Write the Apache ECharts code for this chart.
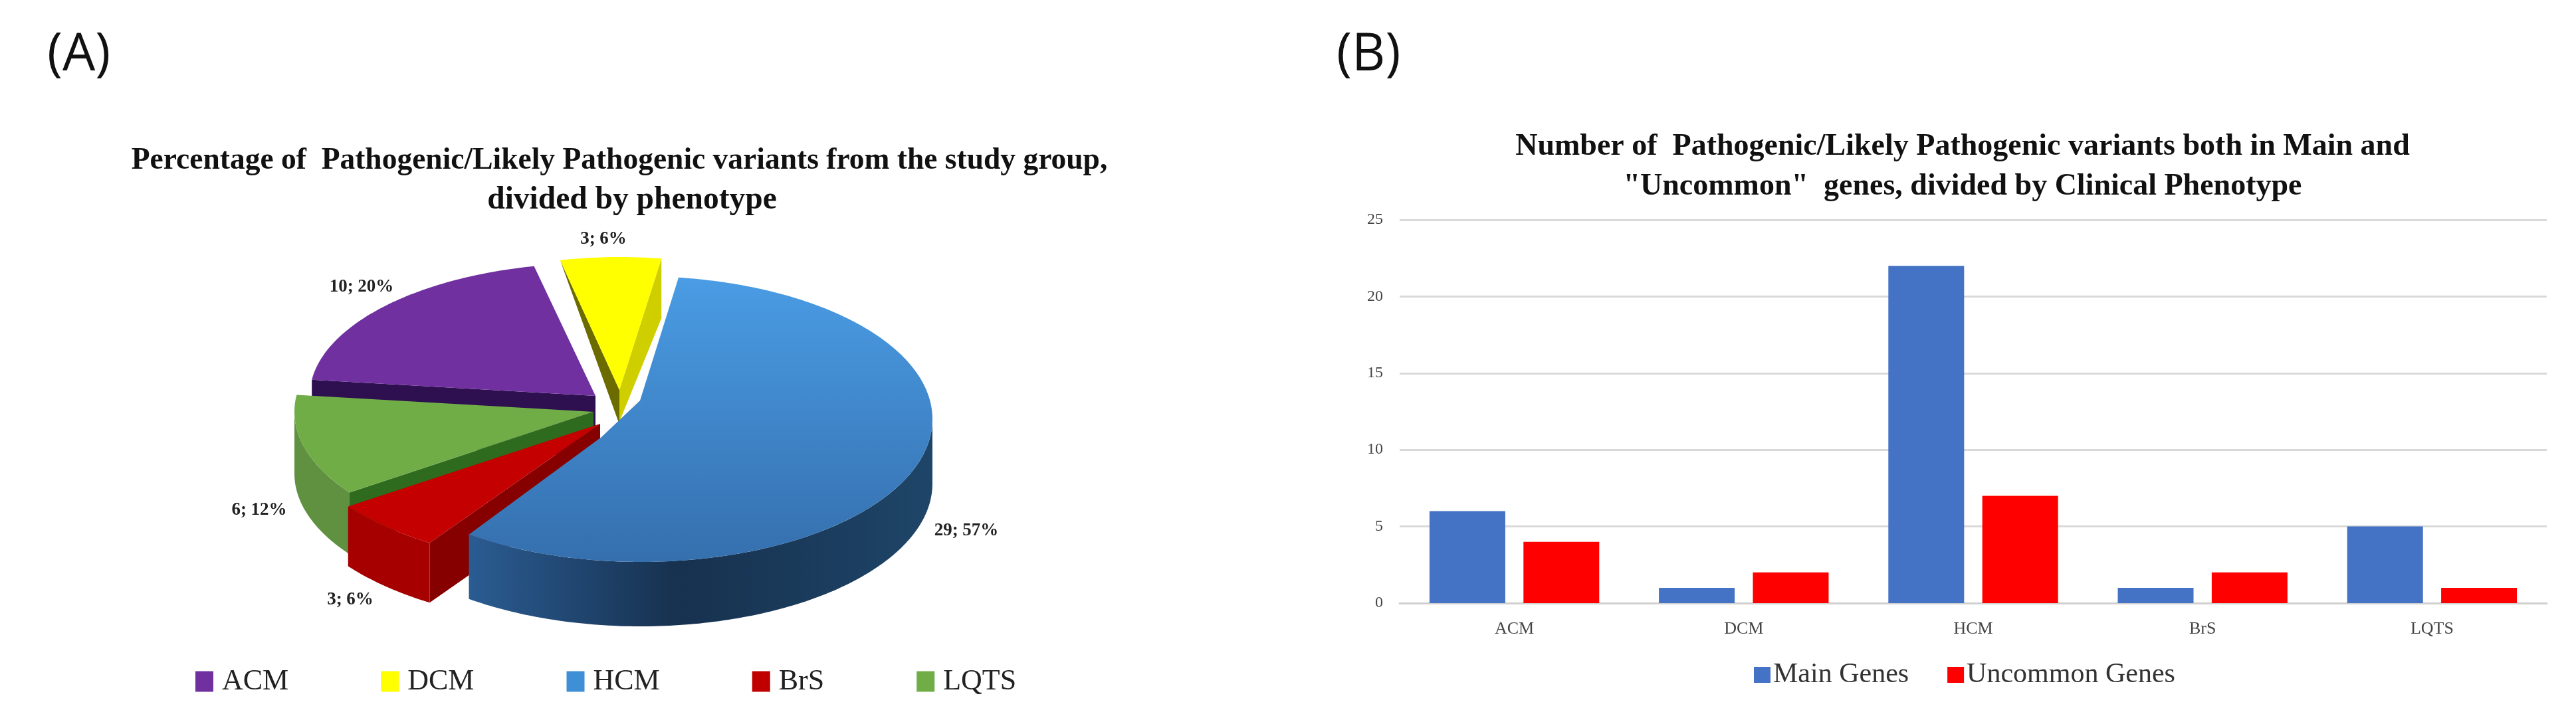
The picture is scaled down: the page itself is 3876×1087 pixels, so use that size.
<!DOCTYPE html>
<html>
<head>
<meta charset="utf-8">
<style>html,body{margin:0;padding:0;background:#fff}#c{width:3876px;height:1087px}</style>
<script src="https://cdn.jsdelivr.net/npm/echarts@6/dist/echarts.min.js"></script>
</head>
<body>
<div id="c"></div>
<script>
const categories = ['ACM', 'DCM', 'HCM', 'BrS', 'LQTS'];
const variantCounts = [10, 3, 29, 3, 6];
const mainGenes = [6, 1, 22, 1, 5];
const uncommonGenes = [4, 2, 7, 2, 1];
const yTicksMax = 25;

const SERIF = '"Liberation Serif","DejaVu Serif",serif';
const total = variantCounts.reduce((a, b) => a + b, 0);
const START_ANGLE = 277;
const LG = (x0, y0, x1, y1, c0, c1, c2) => new echarts.graphic.LinearGradient(x0, y0, x1, y1,
  c2 ? [{offset:0,color:c0},{offset:0.55,color:c1},{offset:1,color:c2}] : [{offset:0,color:c0},{offset:1,color:c1}]);

/* Drawing layout of the exploded, tilted pie */
const sliceLayout = {
  ACM:  {c:[896,596], apex:[896,596], r:[430,200], depth:92, z:2, color:'#7030a0',
         top:'#7030a0', cutStart:{fill:'#2e1050',corner:92,apex:92}, label:[544,432]},
  DCM:  {c:[932,587], apex:[932,587], r:[415,200], depth:92, z:3, color:'#ffff00',
         top:'#ffff00', cutStart:{fill:'#6b6b00',corner:0,apex:52}, cutEnd:{fill:'#cfcf00',corner:90,apex:48}, label:[908,360]},
  HCM:  {c:[964,631], apex:[905,658], bend:[963,603], arcPad:[1.3,2.6], r:[439,215], depth:97, z:6, color:'#3f8fd6',
         top:['#4a9ce4','#356fae'], wall:['#2a5c92','#17314f','#1e4568'], label:[1454,799]},
  BrS:  {c:[903,638], apex:[903,638], r:[465,215], depth:90, z:5, color:'#c00000',
         top:'#c40000', wall:'#a60000', cutStart:{fill:'#870000',corner:90,apex:90}, label:[527,903]},
  LQTS: {c:[893,620], apex:[893,620], r:[450,210], depth:93, z:4, color:'#70ad47',
         top:'#70ad47', wall:'#5f9140', cutStart:{fill:'#2f6b1f',corner:93,apex:30}, label:[390,768]}
};

function pt(s, deg, dy) {
  const a = deg * Math.PI / 180;
  return [s.c[0] + s.r[0] * Math.sin(a), s.c[1] - s.r[1] * Math.cos(a) + (dy || 0)];
}
function arc(s, from, to, dy) {
  const out = [], n = Math.max(2, Math.ceil(Math.abs(to - from)));
  for (let i = 0; i <= n; i++) out.push(pt(s, from + (to - from) * i / n, dy));
  return out;
}
function cutWall(s, deg, spec) {
  const p = pt(s, deg);
  return {type:'polygon', shape:{points:[p, s.apex, [s.apex[0], s.apex[1]+spec.apex], [p[0], p[1]+spec.corner]]},
          style:{fill:spec.fill}};
}
function sliceRenderer(idx) {
  return function (params, api) {
    const name = categories[idx], s = sliceLayout[name], value = api.value(0);
    let before = 0;
    for (let i = 0; i < idx; i++) before += variantCounts[i];
    let a0 = START_ANGLE + before / total * 360;
    if (a0 >= 360) a0 -= 360;
    let a1 = a0 + value / total * 360;
    if (s.arcPad) { a0 -= s.arcPad[0]; a1 += s.arcPad[1]; }
    const children = [];
    if (s.cutStart) children.push(cutWall(s, a0, s.cutStart));
    if (s.cutEnd) children.push(cutWall(s, a1, s.cutEnd));
    if (s.wall) {
      const from = Math.max(a0, 90), to = Math.min(a1, 270);
      const topEdge = arc(s, from, to, 0), botEdge = arc(s, from, to, s.depth).reverse();
      const fill = Array.isArray(s.wall) ? LG(1,0,0,0,s.wall[2],s.wall[1],s.wall[0]) : s.wall;
      children.push({type:'polygon', shape:{points:topEdge.concat(botEdge)}, style:{fill}});
    }
    const fillTop = Array.isArray(s.top) ? LG(0,0,0,1,s.top[0],s.top[1]) : s.top;
    const head = s.bend ? [s.apex, s.bend] : [s.apex];
    children.push({type:'polygon', shape:{points:head.concat(arc(s, a0, a1, 0))}, style:{fill:fillTop}});
    children.push({type:'text', style:{x:s.label[0], y:s.label[1],
      text: value + '; ' + Math.round(value / total * 100) + '%',
      font:'bold 27px ' + SERIF, fill:'#222', align:'center', verticalAlign:'middle'}});
    return {type:'group', children};
  };
}

const pieSeries = categories.map((name, i) => ({
  type:'custom', name, coordinateSystem:'none', z:sliceLayout[name].z,
  itemStyle:{color:sliceLayout[name].color},
  data:[[variantCounts[i]]], renderItem:sliceRenderer(i), silent:true
}));

const chart = echarts.init(document.getElementById('c'), null, {renderer:'canvas'});
chart.setOption({
  animation:false,
  backgroundColor:'#fff',
  title:[
    {text:'(A)', left:66, top:40, textStyle:{fontFamily:'"Open Sans",sans-serif', fontWeight:'normal', fontSize:78, color:'#111'}},
    {text:'(B)', left:2006, top:40, textStyle:{fontFamily:'"Open Sans",sans-serif', fontWeight:'normal', fontSize:78, color:'#111'}},
    {text:'Percentage of  Pathogenic/Likely Pathogenic variants from the study group,',
     left:927, top:208, textAlign:'center', textStyle:{fontFamily:SERIF, fontWeight:'bold', fontSize:45.5, lineHeight:59, color:'#111'}},
    {text:'divided by phenotype',
     left:946, top:267, textAlign:'center', textStyle:{fontFamily:SERIF, fontWeight:'bold', fontSize:47.5, lineHeight:59, color:'#111'}},
    {text:'Number of  Pathogenic/Likely Pathogenic variants both in Main and\n"Uncommon"  genes, divided by Clinical Phenotype',
     left:2948, top:186, textAlign:'center', textStyle:{fontFamily:SERIF, fontWeight:'bold', fontSize:46, lineHeight:60, color:'#111'}}
  ],
  legend:[
    {data:categories, left:289, top:999, icon:'rect', itemWidth:27, itemHeight:31, itemGap:139, selectedMode:false,
     textStyle:{fontFamily:SERIF, fontSize:44, color:'#222', padding:[0,0,0,8]}},
    {data:['Main Genes','Uncommon Genes'], left:2634, top:990, icon:'rect', itemWidth:25, itemHeight:24, itemGap:58, selectedMode:false,
     textStyle:{fontFamily:SERIF, fontSize:42, color:'#333', padding:[0,0,0,-1]}}
  ],
  grid:{left:2106, top:331, width:1726, height:577, containLabel:false},
  xAxis:{type:'category', data:categories, axisTick:{show:false},
    axisLine:{lineStyle:{color:'#cfcfcf', width:3}},
    axisLabel:{fontFamily:SERIF, fontSize:26, color:'#444', margin:26}},
  yAxis:{type:'value', min:0, max:yTicksMax, interval:5, axisLine:{show:false}, axisTick:{show:false},
    axisLabel:{fontFamily:SERIF, fontSize:24, color:'#444', margin:25},
    splitLine:{lineStyle:{color:'#d9d9d9', width:3}}},
  series:[
    {type:'bar', name:'Main Genes', data:mainGenes, barWidth:114, barGap:'24%', itemStyle:{color:'#4472c4'}},
    {type:'bar', name:'Uncommon Genes', data:uncommonGenes, barWidth:114, barGap:'24%', itemStyle:{color:'#ff0000'}}
  ].concat(pieSeries)
});
</script>
</body>
</html>
